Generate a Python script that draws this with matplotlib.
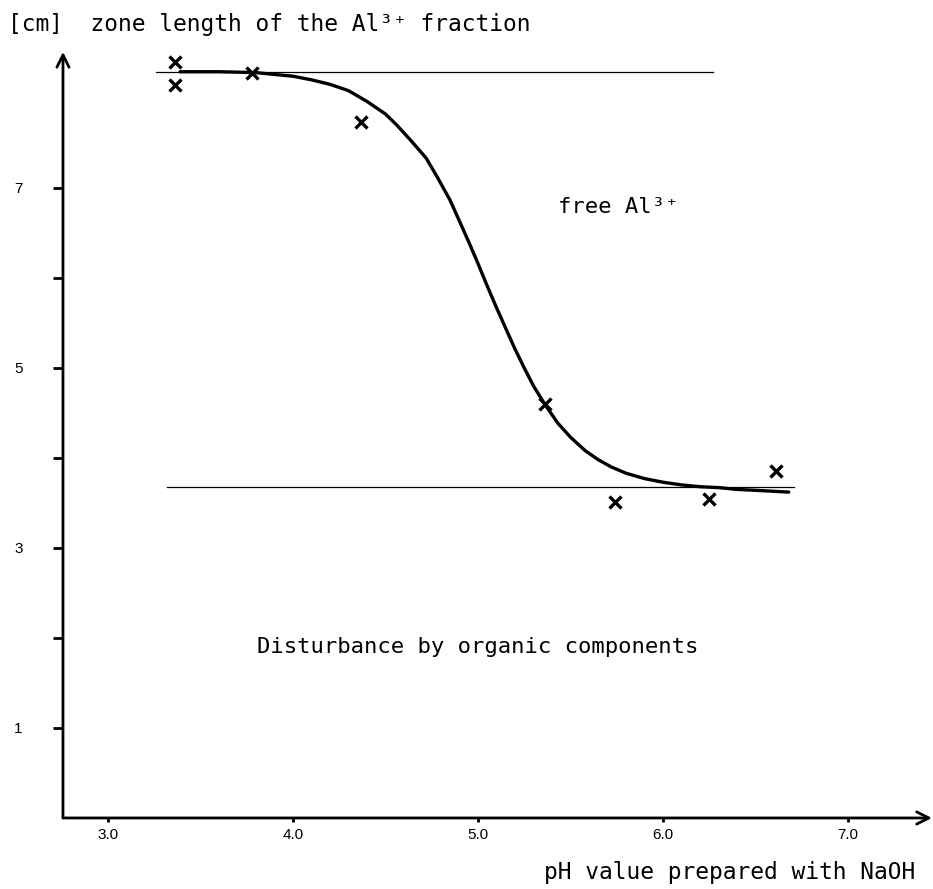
import matplotlib
matplotlib.use("Agg")
import matplotlib.pyplot as plt

# measured points (pH, zone length in cm)
ph_meas = [3.36, 3.36, 3.78, 4.37, 5.36, 5.74, 6.25, 6.61]
zone_meas = [8.40, 8.14, 8.28, 7.73, 4.60, 3.51, 3.54, 3.86]

# hand drawn curve
curve_ph = [3.39, 3.6, 3.8, 3.9, 4.0, 4.1, 4.2, 4.3, 4.4, 4.5, 4.56, 4.64,
            4.72, 4.78, 4.85, 4.90, 4.95, 5.00, 5.05, 5.10, 5.15, 5.20, 5.25,
            5.30, 5.36, 5.43, 5.5, 5.58, 5.65, 5.72, 5.8, 5.9, 6.0, 6.1, 6.2,
            6.3, 6.4, 6.5, 6.68]
curve_zone = [8.29, 8.29, 8.28, 8.26, 8.24, 8.20, 8.15, 8.08, 7.96, 7.82, 7.70, 7.52,
              7.33, 7.12, 6.86, 6.63, 6.40, 6.16, 5.91, 5.67, 5.44, 5.21, 5.00,
              4.80, 4.60, 4.39, 4.23, 4.08, 3.98, 3.90, 3.83, 3.77, 3.73, 3.70, 3.68,
              3.67, 3.65, 3.64, 3.62]

# the two plateau lines
upper_ph = [3.26, 6.27]
upper_zone = [8.29, 8.29]
lower_ph = [3.32, 6.71]
lower_zone = [3.68, 3.68]

x_ticks = [3, 4, 5, 6, 7]
x_labels = ["3.0", "4.0", "5.0", "6.0", "7.0"]
y_ticks = [1, 2, 3, 4, 5, 6, 7]
y_labels = ["1", "", "3", "", "5", "", "7"]

mono = ["DejaVu Sans Mono", "DejaVu Sans"]

fig = plt.figure(figsize=(9.33, 8.89), dpi=100)
ax = fig.add_axes([0.0675, 0.0799, 0.9314, 0.8617])
xmin, xmax = 2.757, 7.454
ymin, ymax = 0.0, 8.51
ax.set_xlim(xmin, xmax)
ax.set_ylim(ymin, ymax)

for s in ax.spines.values():
    s.set_visible(False)

# axes drawn as arrows
ax.annotate("", xy=(xmax, 0), xytext=(xmin, 0), annotation_clip=False,
            arrowprops=dict(arrowstyle="->", lw=2.0, color="black", mutation_scale=22,
                            shrinkA=0, shrinkB=0))
ax.annotate("", xy=(xmin, ymax), xytext=(xmin, 0), annotation_clip=False,
            arrowprops=dict(arrowstyle="->", lw=2.0, color="black", mutation_scale=22,
                            shrinkA=0, shrinkB=0))

ax.set_xticks(x_ticks)
ax.set_xticklabels(x_labels, fontsize=11, family="Liberation Sans")
ax.set_yticks(y_ticks)
ax.set_yticklabels(y_labels, fontsize=11, family="Liberation Sans")
ax.tick_params(axis="x", direction="out", length=3, width=2, pad=4)
ax.tick_params(axis="y", direction="out", length=7, width=2, pad=22)

ax.plot(upper_ph, upper_zone, color="black", lw=0.9)
ax.plot(lower_ph, lower_zone, color="black", lw=0.9)
ax.plot(curve_ph, curve_zone, color="black", lw=2.4, solid_capstyle="round",
        solid_joinstyle="round")
ax.plot(ph_meas, zone_meas, linestyle="none", marker="x", color="black",
        markersize=9, markeredgewidth=2.4)

ax.text(5.43, 6.79, "free Al\u00b3\u207a", family=mono, fontsize=16,
        ha="left", va="center")
ax.text(5.0, 1.9, "Disturbance by organic components", family=mono, fontsize=16,
        ha="center", va="center")

fig.text(8 / 933, 1 - 25 / 889, "[cm]  zone length of the Al\u00b3\u207a fraction",
         family=mono, fontsize=16.5, ha="left", va="center")
fig.text(915 / 933, 1 - 872 / 889, "pH value prepared with NaOH",
         family=mono, fontsize=16.5, ha="right", va="center")

fig.savefig("out.png", dpi=100, facecolor="white")
